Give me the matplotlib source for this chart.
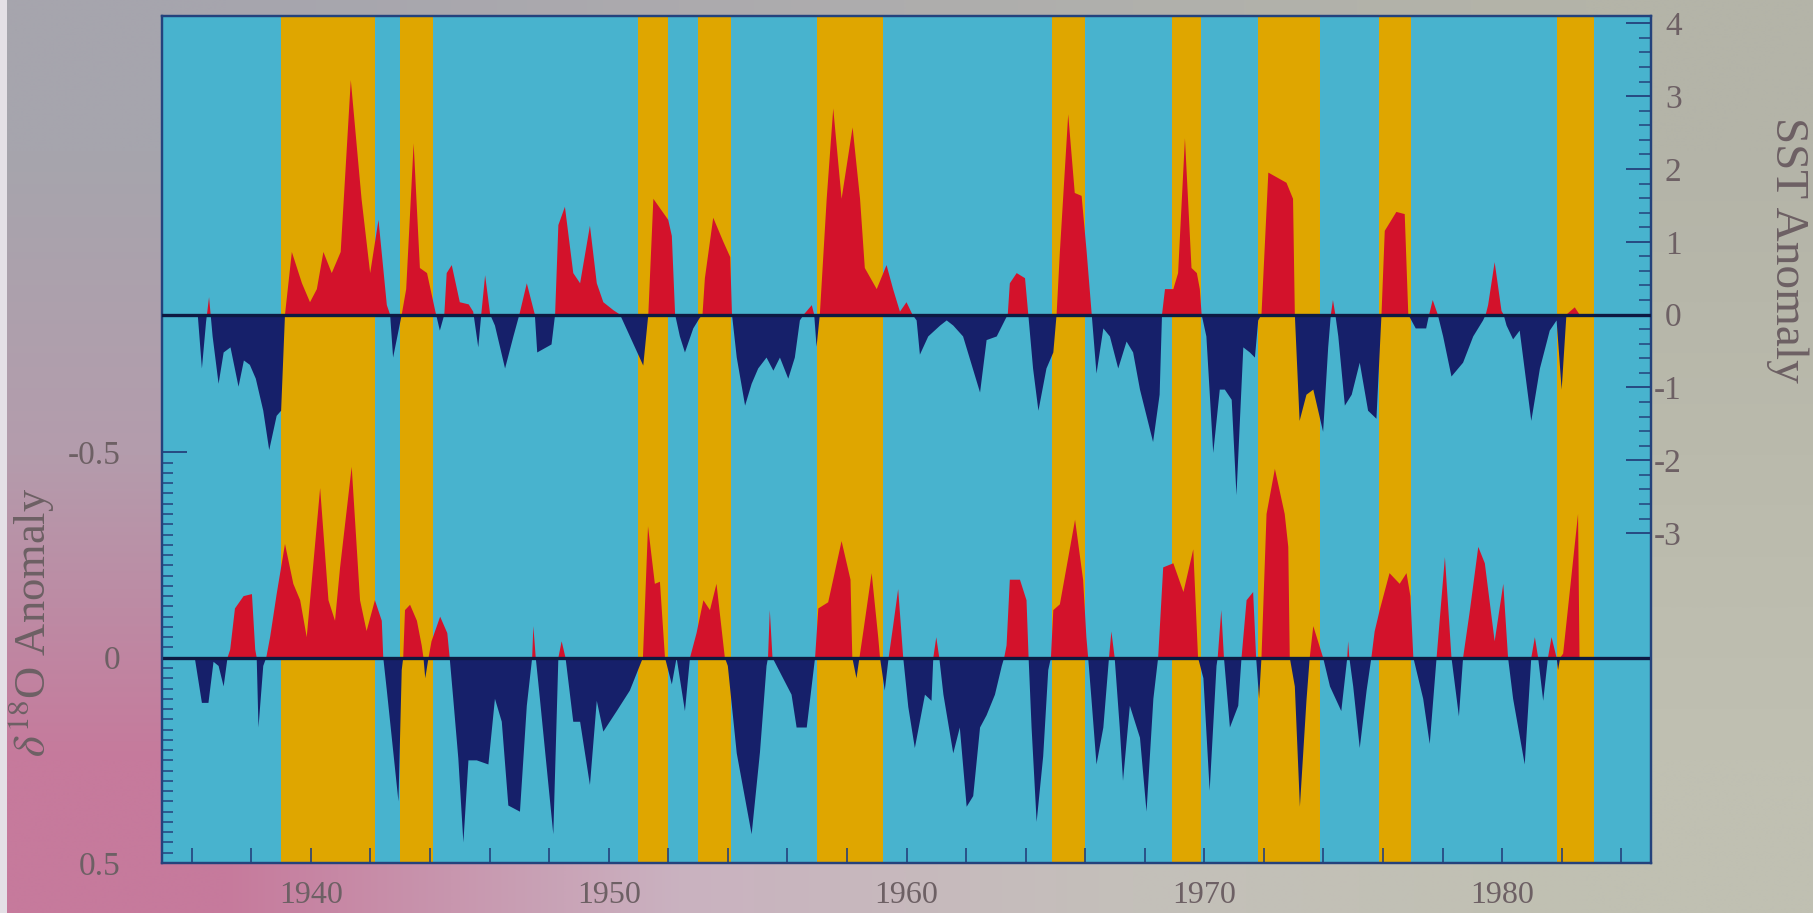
import numpy as np
import matplotlib
matplotlib.use("Agg")
import matplotlib.pyplot as plt
from matplotlib.patches import Rectangle

plt.rcParams["font.family"] = ["Liberation Serif", "DejaVu Serif"]
plt.rcParams["mathtext.fontset"] = "stix"

# ---------------- data ----------------
# El Nino years (shaded bands)
nino_start = [1939.0, 1943.0, 1951.0, 1953.0, 1957.0, 1964.9, 1968.9, 1971.8, 1975.85, 1981.85]
nino_end = [1942.15, 1944.1, 1952.0, 1954.1, 1959.2, 1966.0, 1969.9, 1973.9, 1976.95, 1983.1]

# Sea-surface temperature anomaly (right axis)
sst_year = [1936.20, 1936.34, 1936.48, 1936.58, 1936.70, 1936.90, 1937.07, 1937.30, 1937.57, 1937.75,
            1937.95, 1938.15, 1938.40, 1938.60, 1938.85, 1939.00, 1939.13, 1939.36, 1939.70, 1939.97,
            1940.20, 1940.42, 1940.70, 1941.00, 1941.34, 1941.70, 1941.99, 1942.27, 1942.55, 1942.66,
            1942.76, 1943.05, 1943.20, 1943.45, 1943.66, 1943.90, 1944.17, 1944.33, 1944.48, 1944.56,
            1944.73, 1945.00, 1945.30, 1945.45, 1945.62, 1945.72, 1945.85, 1946.02, 1946.18, 1946.52,
            1946.80, 1947.00, 1947.25, 1947.52, 1947.60, 1948.08, 1948.20, 1948.31, 1948.53, 1948.81,
            1949.04, 1949.37, 1949.60, 1949.82, 1950.16, 1950.38, 1951.16, 1951.33, 1951.50, 1952.00,
            1952.12, 1952.23, 1952.39, 1952.56, 1952.84, 1953.05, 1953.15, 1953.23, 1953.51, 1953.85,
            1954.08, 1954.14, 1954.30, 1954.58, 1954.80, 1955.02, 1955.30, 1955.53, 1955.75, 1956.03,
            1956.25, 1956.42, 1956.55, 1956.82, 1956.90, 1956.98, 1957.09, 1957.32, 1957.54, 1957.82,
            1958.19, 1958.44, 1958.60, 1959.00, 1959.33, 1959.55, 1959.78, 1960.00, 1960.20, 1960.34,
            1960.45, 1960.73, 1961.13, 1961.35, 1961.57, 1961.90, 1962.47, 1962.69, 1963.03, 1963.30,
            1963.40, 1963.47, 1963.70, 1963.98, 1964.09, 1964.25, 1964.43, 1964.70, 1964.93, 1965.04,
            1965.15, 1965.43, 1965.65, 1965.88, 1966.05, 1966.22, 1966.38, 1966.61, 1966.83, 1967.11,
            1967.39, 1967.61, 1967.84, 1968.28, 1968.50, 1968.58, 1968.68, 1968.96, 1969.12, 1969.35,
            1969.57, 1969.75, 1969.85, 1969.91, 1970.07, 1970.30, 1970.52, 1970.69, 1970.92, 1971.08,
            1971.31, 1971.53, 1971.70, 1971.81, 1971.92, 1972.15, 1972.76, 1972.98, 1973.04, 1973.20,
            1973.43, 1973.66, 1973.99, 1974.16, 1974.25, 1974.32, 1974.40, 1974.50, 1974.72, 1974.95,
            1975.22, 1975.50, 1975.78, 1975.95, 1976.06, 1976.45, 1976.73, 1976.85, 1977.10, 1977.45,
            1977.55, 1977.67, 1977.84, 1978.02, 1978.30, 1978.69, 1979.03, 1979.36, 1979.45, 1979.53,
            1979.75, 1979.98, 1980.05, 1980.15, 1980.37, 1980.59, 1980.98, 1981.27, 1981.60, 1981.83,
            1982.00, 1982.16, 1982.44, 1982.60]
sst_value = [0.00, -0.74, -0.10, 0.24, -0.30, -0.95, -0.52, -0.45, -0.99, -0.63,
             -0.69, -0.88, -1.32, -1.86, -1.39, -1.32, 0.00, 0.86, 0.43, 0.17,
             0.35, 0.86, 0.57, 0.86, 3.22, 1.59, 0.57, 1.30, 0.13, 0.00,
             -0.59, 0.00, 0.35, 2.35, 0.64, 0.57, 0.06, -0.22, 0.00, 0.57,
             0.68, 0.17, 0.14, 0.04, -0.45, 0.00, 0.54, 0.00, -0.15, -0.74,
             -0.30, 0.00, 0.43, 0.00, -0.52, -0.41, 0.00, 1.23, 1.48, 0.57,
             0.43, 1.22, 0.43, 0.17, 0.06, 0.00, -0.70, 0.00, 1.59, 1.30,
             1.08, 0.00, -0.30, -0.52, -0.19, -0.05, 0.00, 0.50, 1.33, 1.00,
             0.79, 0.00, -0.59, -1.25, -0.95, -0.74, -0.59, -0.77, -0.59, -0.88,
             -0.59, -0.08, 0.00, 0.13, 0.00, -0.44, 0.00, 1.59, 2.83, 1.59,
             2.57, 1.59, 0.64, 0.35, 0.68, 0.35, 0.04, 0.17, 0.00, -0.08,
             -0.55, -0.30, -0.15, -0.08, -0.15, -0.30, -1.07, -0.35, -0.30, -0.08,
             0.00, 0.43, 0.57, 0.50, 0.00, -0.74, -1.32, -0.74, -0.52, 0.00,
             0.86, 2.75, 1.67, 1.63, 0.86, 0.00, -0.81, -0.19, -0.30, -0.74,
             -0.37, -0.52, -1.03, -1.75, -1.10, 0.00, 0.35, 0.35, 0.57, 2.42,
             0.64, 0.57, 0.35, 0.00, -0.30, -1.90, -1.03, -1.03, -1.17, -2.48,
             -0.45, -0.52, -0.59, -0.08, 0.00, 1.95, 1.81, 1.59, 0.00, -1.46,
             -1.10, -1.03, -1.61, -0.45, 0.00, 0.20, 0.00, -0.30, -1.25, -1.10,
             -0.66, -1.32, -1.43, 0.00, 1.15, 1.41, 1.38, 0.00, -0.19, -0.19,
             0.00, 0.20, 0.00, -0.30, -0.85, -0.66, -0.30, -0.08, 0.00, 0.13,
             0.72, 0.05, 0.00, -0.15, -0.34, -0.22, -1.46, -0.74, -0.22, -0.08,
             -1.03, 0.00, 0.10, 0.00]

# Coral delta-18O anomaly (left axis, inverted)
d18o_year = [1936.10, 1936.34, 1936.56, 1936.73, 1936.90, 1937.07, 1937.20, 1937.29, 1937.45, 1937.74,
             1938.02, 1938.13, 1938.18, 1938.24, 1938.40, 1938.50, 1938.63, 1938.85, 1939.13, 1939.41,
             1939.64, 1939.86, 1940.31, 1940.59, 1940.81, 1940.98, 1941.37, 1941.65, 1941.87, 1942.15,
             1942.38, 1942.43, 1942.55, 1942.94, 1943.05, 1943.10, 1943.16, 1943.33, 1943.56, 1943.72,
             1943.78, 1943.84, 1943.95, 1944.05, 1944.34, 1944.58, 1944.66, 1944.78, 1944.95, 1945.12,
             1945.29, 1945.57, 1945.96, 1946.18, 1946.41, 1946.63, 1947.02, 1947.25, 1947.40, 1947.43,
             1947.47, 1947.55, 1947.69, 1948.14, 1948.31, 1948.42, 1948.55, 1948.81, 1949.04, 1949.37,
             1949.60, 1949.82, 1950.27, 1950.71, 1951.15, 1951.32, 1951.55, 1951.72, 1951.89, 1952.12,
             1952.28, 1952.56, 1952.73, 1952.95, 1953.18, 1953.40, 1953.62, 1953.90, 1954.00, 1954.30,
             1954.80, 1955.08, 1955.30, 1955.35, 1955.41, 1955.50, 1956.14, 1956.31, 1956.65, 1956.93,
             1957.04, 1957.37, 1957.82, 1958.12, 1958.18, 1958.32, 1958.42, 1958.55, 1958.83, 1959.05,
             1959.11, 1959.27, 1959.40, 1959.55, 1959.72, 1959.89, 1960.06, 1960.28, 1960.62, 1960.84,
             1960.90, 1961.00, 1961.10, 1961.24, 1961.57, 1961.79, 1962.02, 1962.24, 1962.47, 1962.69,
             1962.97, 1963.20, 1963.28, 1963.36, 1963.47, 1963.81, 1964.03, 1964.10, 1964.20, 1964.37,
             1964.59, 1964.76, 1964.85, 1964.93, 1965.15, 1965.66, 1965.93, 1966.04, 1966.10, 1966.21,
             1966.38, 1966.61, 1966.80, 1966.88, 1966.99, 1967.16, 1967.27, 1967.50, 1967.84, 1968.06,
             1968.29, 1968.45, 1968.62, 1968.96, 1969.30, 1969.63, 1969.79, 1969.97, 1970.18, 1970.41,
             1970.45, 1970.57, 1970.66, 1970.86, 1971.14, 1971.25, 1971.42, 1971.64, 1971.74, 1971.84,
             1971.92, 1972.09, 1972.37, 1972.70, 1972.82, 1972.87, 1973.04, 1973.21, 1973.43, 1973.54,
             1973.66, 1973.99, 1974.22, 1974.60, 1974.77, 1974.80, 1974.83, 1974.87, 1975.00, 1975.22,
             1975.45, 1975.61, 1975.72, 1975.89, 1976.22, 1976.56, 1976.79, 1976.92, 1977.02, 1977.35,
             1977.57, 1977.80, 1978.08, 1978.30, 1978.55, 1978.69, 1978.92, 1979.20, 1979.42, 1979.75,
             1980.04, 1980.20, 1980.37, 1980.76, 1980.98, 1981.10, 1981.21, 1981.38, 1981.54, 1981.66,
             1981.83, 1981.88, 1981.95, 1982.05, 1982.55, 1982.60]
d18o_value = [0.00, 0.11, 0.11, 0.01, 0.02, 0.07, 0.00, -0.02, -0.12, -0.15,
              -0.155, -0.02, 0.00, 0.17, 0.02, 0.00, -0.05, -0.155, -0.277, -0.18,
              -0.14, -0.05, -0.413, -0.14, -0.09, -0.22, -0.465, -0.14, -0.065, -0.14,
              -0.09, 0.00, 0.08, 0.35, 0.03, 0.00, -0.116, -0.129, -0.09, -0.03,
              0.00, 0.05, 0.00, -0.04, -0.10, -0.06, 0.00, 0.10, 0.245, 0.45,
              0.25, 0.25, 0.26, 0.10, 0.156, 0.36, 0.375, 0.117, 0.02, 0.00,
              -0.077, 0.00, 0.10, 0.43, 0.00, -0.04, 0.00, 0.156, 0.156, 0.31,
              0.105, 0.18, 0.13, 0.08, 0.00, -0.32, -0.18, -0.185, 0.00, 0.065,
              0.00, 0.13, 0.00, -0.06, -0.14, -0.116, -0.18, 0.00, 0.02, 0.233,
              0.43, 0.23, 0.02, 0.00, -0.116, 0.00, 0.09, 0.17, 0.17, 0.00,
              -0.12, -0.135, -0.284, -0.19, 0.00, 0.05, 0.00, -0.064, -0.206, -0.05,
              0.00, 0.08, 0.00, -0.077, -0.167, 0.00, 0.12, 0.22, 0.09, 0.105,
              0.00, -0.05, 0.00, 0.09, 0.233, 0.17, 0.363, 0.337, 0.17, 0.14,
              0.09, 0.02, 0.00, -0.03, -0.19, -0.19, -0.14, 0.00, 0.17, 0.40,
              0.24, 0.03, 0.00, -0.116, -0.13, -0.336, -0.19, -0.05, 0.00, 0.10,
              0.26, 0.17, 0.00, -0.064, 0.00, 0.17, 0.30, 0.117, 0.195, 0.375,
              0.10, 0.00, -0.22, -0.23, -0.16, -0.264, 0.00, 0.05, 0.324, 0.02,
              0.00, -0.116, 0.00, 0.17, 0.117, 0.00, -0.14, -0.16, 0.00, 0.10,
              0.00, -0.35, -0.46, -0.35, -0.27, 0.00, 0.07, 0.363, 0.105, 0.00,
              -0.077, 0.00, 0.07, 0.13, 0.02, 0.00, -0.04, 0.00, 0.07, 0.22,
              0.08, 0.00, -0.064, -0.116, -0.206, -0.18, -0.206, -0.15, 0.00, 0.10,
              0.21, 0.00, -0.245, 0.00, 0.143, 0.00, -0.116, -0.27, -0.23, -0.04,
              -0.18, 0.00, 0.10, 0.26, 0.00, -0.05, 0.00, 0.105, 0.00, -0.05,
              0.00, 0.03, 0.00, -0.01, -0.35, 0.00]

decade_years = [1940, 1950, 1960, 1970, 1980]
decade_labels = ["1940", "1950", "1960", "1970", "1980"]
d18o_ticks = [-0.5, 0.0, 0.5]
d18o_labels = ["-0.5", "0", "0.5"]
sst_ticks = [4, 3, 2, 1, 0, -1, -2, -3]
sst_labels = ["4", "3", "2", "1", "0", "-1", "-2", "-3"]

# ---------------- style ----------------
CYAN = "#48b3ce"
YELLOW = "#dfa600"
RED = "#d3122b"
NAVY = "#16206a"
ZERO = "#0d1a42"
SPINE = "#24427c"
TXT = "#6d6064"

W, H = 1813, 913
fig = plt.figure(figsize=(W / 100, H / 100), dpi=100)

# soft slide background
bg = fig.add_axes([0, 0, 1, 1], zorder=-10)
grid = np.array([
    [(166, 165, 173), (172, 170, 174), (176, 176, 172), (180, 180, 168)],
    [(180, 156, 172), (186, 176, 181), (186, 184, 174), (186, 186, 172)],
    [(198, 122, 156), (202, 178, 192), (196, 192, 186), (192, 192, 178)],
]) / 255.0
bg.imshow(grid, extent=[0, 1, 0, 1], aspect="auto", interpolation="bilinear", origin="upper")
bg.set_xlim(0, 1)
bg.set_ylim(0, 1)
bg.axis("off")

left, right, top, bottom = 162, 1651, 16, 863
ax = fig.add_axes([left / W, (H - bottom) / H, (right - left) / W, (bottom - top) / H])
ax.set_facecolor(CYAN)
ax.set_xlim(1935, 1985)
ax.set_ylim(0.5, -1.563)

for s, e in zip(nino_start, nino_end):
    ax.axvspan(s, e, color=YELLOW, lw=0, zorder=1)

dy = np.array(d18o_year)
dv = np.array(d18o_value)
ax.fill_between(dy, dv, 0, where=dv <= 0, interpolate=True, color=RED, lw=0, zorder=2)
ax.fill_between(dy, dv, 0, where=dv >= 0, interpolate=True, color=NAVY, lw=0, zorder=2)
ax.axhline(0, color=ZERO, lw=2.4, zorder=3)

ax2 = ax.twinx()
ax2.set_ylim(-7.53, 4.10)
sy = np.array(sst_year)
sv = np.array(sst_value)
ax2.fill_between(sy, sv, 0, where=sv >= 0, interpolate=True, color=RED, lw=0, zorder=2)
ax2.fill_between(sy, sv, 0, where=sv <= 0, interpolate=True, color=NAVY, lw=0, zorder=2)
ax2.axhline(0, color=ZERO, lw=2.4, zorder=3)

# x axis
ax.set_xticks(decade_years)
ax.set_xticklabels(decade_labels)
ax.set_xticks(np.arange(1936, 1985, 2), minor=True)
ax.tick_params(axis="x", which="both", direction="in", length=11, width=1.2,
               color=SPINE, pad=13, labelsize=23, labelcolor=TXT, top=False)

# left axis
ax.set_yticks(d18o_ticks)
ax.set_yticklabels(d18o_labels)
ax.set_yticks(np.arange(-0.5, 0.5001, 0.025), minor=True)
ax.tick_params(axis="y", which="major", direction="in", length=18, width=1.3,
               color=SPINE, pad=30, labelsize=24, labelcolor=TXT)
ax.tick_params(axis="y", which="minor", direction="in", length=8, width=1.1, color=SPINE)

# right axis
ax2.set_yticks(sst_ticks)
ax2.set_yticklabels(sst_labels)
ax2.set_yticks(np.arange(-3, 4.001, 0.2), minor=True)
ax2.tick_params(axis="y", which="major", direction="in", length=18, width=1.3,
                color=SPINE, pad=22, labelsize=24, labelcolor=TXT)
ax2.tick_params(axis="y", which="minor", direction="in", length=9, width=1.1, color=SPINE)
for lab in ax2.get_yticklabels():
    lab.set_horizontalalignment("right")

for a in (ax, ax2):
    for sp in a.spines.values():
        sp.set_color(SPINE)
        sp.set_linewidth(1.6)

fig.text(1787 / W, 1 - 250 / H, "SST Anomaly", rotation=-90, ha="center", va="center",
         fontsize=34, color=TXT)
fig.text(31 / W, 1 - 622 / H, r"$\delta^{18}$O Anomaly", rotation=90, ha="center", va="center",
         fontsize=32, color=TXT)

# pale strip along the left edge of the slide
fig.patches.append(Rectangle((0, 0), 7 / W, 1, transform=fig.transFigure,
                             color="#e4e0e6", lw=0, zorder=10))

fig.savefig("out.png", dpi=100)
